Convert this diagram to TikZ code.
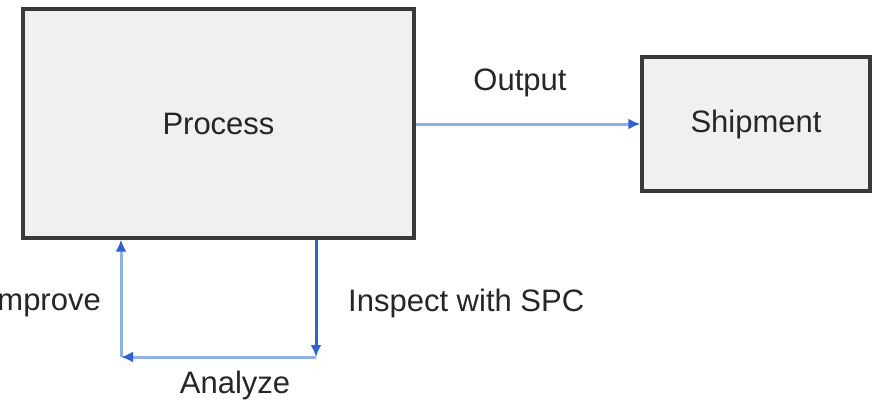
\documentclass[tikz,border=0pt]{standalone}
\usepackage{fontspec}
\setmainfont{Liberation Sans}
\usepackage{xcolor}
\usetikzlibrary{arrows.meta,positioning,calc}

\definecolor{boxfill}{HTML}{F0F0F0}
\definecolor{boxline}{HTML}{3A3A3A}
\definecolor{lineblue}{HTML}{8DB3E6}
\definecolor{darkblue}{HTML}{2F62D0}

\begin{document}
\begin{tikzpicture}[x=1pt, y=-1pt,
    box/.style={rectangle, draw=boxline, fill=boxfill, line width=3.2pt, minimum width=#1, align=center, font=\fontsize{31}{37}\selectfont, text=black!85},
    arr/.style={-{Latex[length=12pt, width=11pt, color=darkblue]}, line width=3pt, color=lineblue},
    darr/.style={arr, color=darkblue},
    lbl/.style={font=\fontsize{31}{37}\selectfont, text=black!85, inner sep=0pt}
]
\useasboundingbox (0,0) rectangle (883,408);

% --- Boxes ---
\node[box=391pt, minimum height=229pt] (proc) at (218.5,123.5) {Process};
\node[box=228pt, minimum height=134pt] (ship) at (756,124) {Shipment};

% --- Output ---
\draw[arr] (proc.east |- ship.west) -- (ship.west);
\node[lbl] (out) at (520,83) {Output};

% --- Feedback loop ---
\coordinate (br) at (316,357);
\coordinate (bl) at (121,357);
\draw[darr] (proc.south -| br) -- (br);
\draw[arr] (br) -- (bl);
\draw[arr] (bl) -- (proc.south -| bl);
\node[lbl, anchor=west] (insp) at (348,303) {Inspect with SPC};
\node[lbl] (ana) at (235,385) {Analyze};
\node[lbl, anchor=east] (imp) at (101,303) {Improve};
\end{tikzpicture}
\end{document}
